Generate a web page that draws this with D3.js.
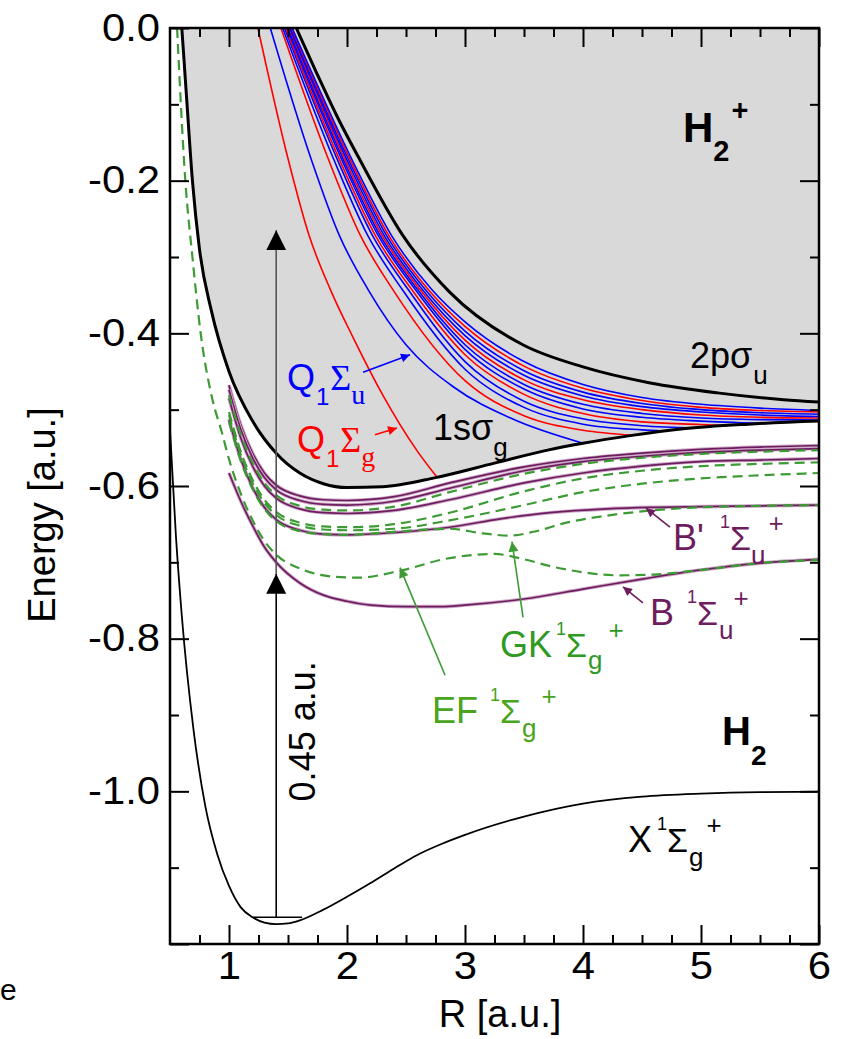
<!DOCTYPE html>
<html>
<head>
<meta charset="utf-8">
<script src="https://cdn.jsdelivr.net/npm/d3@7"></script>
<style>
  body { margin: 0; background: #fff; }
  svg { display: block; font-family: "Liberation Sans", Arial, Helvetica, sans-serif; }
</style>
</head>
<body>
<div id="chart"></div>
<script>
// ---- axis ticks ----
const xMajor = [1, 2, 3, 4, 5, 6];
const xLabels = ["1", "2", "3", "4", "5", "6"];
const yMajor = [0, -0.2, -0.4, -0.6, -0.8, -1.0, -1.2];
const yLabels = ["0.0", "-0.2", "-0.4", "-0.6", "-0.8", "-1.0", ""];
const yMinor = [-0.1, -0.3, -0.5, -0.7, -0.9, -1.1];

// ---- potential curves, [R, E] in a.u. ----
// H2 ground state X 1Sigma_g+
const stateX = [[0.5,-0.527],[0.55,-0.665],[0.6,-0.77],[0.7,-0.92],[0.8,-1.02],[0.9,-1.082],[1.0,-1.124],[1.1,-1.152],[1.2,-1.165],[1.3,-1.172],[1.4,-1.174],[1.5,-1.173],[1.6,-1.169],[1.8,-1.155],[2.0,-1.138],[2.2,-1.12],[2.4,-1.101],[2.6,-1.083],[2.8,-1.069],[3.0,-1.057],[3.5,-1.033],[4.0,-1.016],[4.5,-1.007],[5.0,-1.003],[5.5,-1.001],[6.0,-1.0005]];
// H2+ 1s sigma_g (ionisation threshold)
const ion1s = [[0.6,0],[0.64,-0.09],[0.69,-0.2],[0.75,-0.29],[0.85,-0.37],[1.0,-0.45],[1.2,-0.515],[1.4,-0.557],[1.6,-0.583],[1.8,-0.597],[2.0,-0.602],[2.3,-0.601],[2.75,-0.589],[3.25,-0.57],[3.7,-0.553],[4.0,-0.544],[4.4,-0.534],[4.85,-0.525],[5.4,-0.519],[6.0,-0.515]];
// H2+ 2p sigma_u
const ion2p = [[1.57,0],[1.74,-0.058],[1.91,-0.114],[2.11,-0.173],[2.47,-0.271],[2.87,-0.346],[3.49,-0.415],[4.0,-0.444],[4.57,-0.465],[5.14,-0.478],[5.7,-0.487],[6.0,-0.49]];

// singly excited 1Sigma_u+ (solid) and 1Sigma_g+ (dashed)
const stateB = [[1.0,-0.583],[1.1,-0.62],[1.2,-0.652],[1.3,-0.68],[1.4,-0.7],[1.6,-0.727],[1.8,-0.743],[2.0,-0.751],[2.2,-0.756],[2.5,-0.758],[2.8,-0.758],[3.0,-0.756],[3.5,-0.748],[4.0,-0.735],[4.5,-0.722],[5.0,-0.71],[5.5,-0.701],[6.0,-0.696]];
const stateEF = [[0.56,0],[0.63,-0.2],[0.69,-0.3],[0.76,-0.4],[0.86,-0.487],[0.94,-0.53],[1.0,-0.565],[1.1,-0.61],[1.2,-0.645],[1.3,-0.672],[1.4,-0.69],[1.6,-0.708],[1.9,-0.719],[2.1,-0.72],[2.45,-0.711],[2.85,-0.695],[3.25,-0.689],[3.5,-0.696],[3.75,-0.706],[4.0,-0.713],[4.3,-0.717],[4.6,-0.716],[5.0,-0.71],[5.5,-0.701],[6.0,-0.697]];
const stateBp = [[1.0,-0.513],[1.1,-0.565],[1.2,-0.602],[1.3,-0.628],[1.4,-0.644],[1.6,-0.658],[1.8,-0.663],[2.0,-0.664],[2.4,-0.661],[2.87,-0.654],[3.3,-0.643],[3.72,-0.635],[4.2,-0.63],[4.57,-0.628],[5.0,-0.627],[5.5,-0.626],[6.0,-0.625]];
const stateGK = [[1.0,-0.516],[1.1,-0.567],[1.2,-0.604],[1.3,-0.63],[1.4,-0.646],[1.6,-0.659],[1.8,-0.663],[2.0,-0.664],[2.4,-0.66],[2.87,-0.656],[3.15,-0.662],[3.38,-0.665],[3.58,-0.66],[3.86,-0.648],[4.29,-0.637],[4.85,-0.629],[5.5,-0.626],[6.0,-0.625]];
const rydU1 = [[1.0,-0.468],[1.1,-0.52],[1.2,-0.557],[1.3,-0.583],[1.4,-0.599],[1.6,-0.613],[1.8,-0.618],[2.0,-0.619],[2.4,-0.614],[2.87,-0.596],[3.5,-0.575],[4.0,-0.564],[4.5,-0.557],[5.0,-0.552],[5.5,-0.549],[6.0,-0.547]];
const rydU2 = [[1.0,-0.474],[1.1,-0.526],[1.2,-0.563],[1.3,-0.589],[1.4,-0.605],[1.6,-0.619],[1.8,-0.624],[2.0,-0.625],[2.4,-0.62],[2.87,-0.603],[3.5,-0.58],[4.0,-0.568],[4.5,-0.561],[5.0,-0.556],[5.5,-0.553],[6.0,-0.551]];
const rydU3 = [[1.0,-0.485],[1.1,-0.537],[1.2,-0.574],[1.3,-0.6],[1.4,-0.616],[1.6,-0.63],[1.8,-0.635],[2.0,-0.636],[2.4,-0.632],[2.87,-0.618],[3.5,-0.596],[4.0,-0.583],[4.5,-0.574],[5.0,-0.568],[5.5,-0.566],[6.0,-0.564]];
const rydG1 = [[1.0,-0.481],[1.1,-0.533],[1.2,-0.57],[1.3,-0.596],[1.4,-0.612],[1.6,-0.626],[1.8,-0.631],[2.0,-0.632],[2.4,-0.627],[2.87,-0.608],[3.5,-0.584],[4.0,-0.571],[4.5,-0.563],[5.0,-0.558],[5.5,-0.555],[6.0,-0.553]];
const rydG2 = [[1.0,-0.503],[1.1,-0.555],[1.2,-0.592],[1.3,-0.618],[1.4,-0.634],[1.6,-0.648],[1.8,-0.653],[2.0,-0.654],[2.4,-0.65],[2.87,-0.635],[3.5,-0.607],[4.0,-0.59],[4.5,-0.58],[5.0,-0.574],[5.5,-0.571],[6.0,-0.569]];
const rydG3 = [[1.0,-0.507],[1.1,-0.559],[1.2,-0.596],[1.3,-0.622],[1.4,-0.638],[1.6,-0.652],[1.8,-0.657],[2.0,-0.658],[2.4,-0.656],[2.87,-0.645],[3.5,-0.625],[4.0,-0.608],[4.5,-0.597],[5.0,-0.59],[5.5,-0.586],[6.0,-0.583]];

// doubly excited Q1 states, Sigma_g (red) and Sigma_u (blue)
const qG1 = [[1.245,0],[1.503,-0.173],[1.677,-0.271],[1.86,-0.343],[2.05,-0.405],[2.3,-0.48],[2.59,-0.553],[2.76,-0.588]];
const qU1 = [[1.35,0],[1.699,-0.173],[1.933,-0.271],[2.18,-0.343],[2.5,-0.415],[2.9,-0.47],[3.4,-0.512],[4.0,-0.544]];
const qG2 = [[1.44,0],[1.845,-0.173],[2.111,-0.271],[2.39,-0.343],[3.0,-0.462],[3.5,-0.508],[4.0,-0.527],[4.42,-0.5335]];
const qU2 = [[1.455,0],[1.89,-0.173],[2.173,-0.271],[2.47,-0.343],[3.0,-0.447],[3.5,-0.497],[4.0,-0.519],[4.5,-0.5265],[4.68,-0.528]];
const qU3 = [[1.47,0],[1.92,-0.173],[2.213,-0.271],[2.52,-0.343],[3.0,-0.437],[3.5,-0.489],[4.0,-0.512],[4.5,-0.521],[4.95,-0.524]];
const qG3 = [[1.48,0],[1.938,-0.173],[2.237,-0.271],[2.55,-0.343],[3.0,-0.428],[3.5,-0.48],[4.0,-0.505],[4.5,-0.516],[5.0,-0.5195],[5.22,-0.521]];
const qU4 = [[1.49,0],[1.957,-0.173],[2.261,-0.271],[2.58,-0.343],[3.0,-0.421],[3.5,-0.473],[4.0,-0.499],[4.5,-0.51],[5.0,-0.515],[5.5,-0.518]];
const qU5 = [[1.5,0],[1.971,-0.173],[2.278,-0.271],[2.6,-0.343],[3.0,-0.415],[3.5,-0.467],[4.0,-0.493],[4.5,-0.505],[5.0,-0.511],[5.5,-0.513],[6.0,-0.5135]];
const qG4 = [[1.51,0],[1.985,-0.173],[2.295,-0.271],[2.62,-0.343],[3.0,-0.409],[3.5,-0.461],[4.0,-0.487],[4.5,-0.5],[5.0,-0.507],[5.5,-0.51],[6.0,-0.511]];
const qU6 = [[1.515,0],[2.0,-0.173],[2.312,-0.271],[2.64,-0.343],[3.0,-0.403],[3.5,-0.455],[4.0,-0.482],[4.5,-0.496],[5.0,-0.503],[5.5,-0.507],[6.0,-0.509]];
const qU7 = [[1.52,0],[2.015,-0.173],[2.332,-0.271],[2.665,-0.343],[3.0,-0.397],[3.5,-0.449],[4.0,-0.477],[4.5,-0.492],[5.0,-0.5],[5.5,-0.504],[6.0,-0.506]];
const qG5 = [[1.53,0],[2.029,-0.173],[2.351,-0.271],[2.69,-0.343],[3.0,-0.391],[3.5,-0.443],[4.0,-0.472],[4.5,-0.488],[5.0,-0.497],[5.5,-0.501],[6.0,-0.503]];
const qU8 = [[1.535,0],[2.044,-0.173],[2.374,-0.271],[2.72,-0.343],[3.0,-0.385],[3.5,-0.437],[4.0,-0.467],[4.5,-0.484],[5.0,-0.493],[5.5,-0.498],[6.0,-0.501]];

// lowest vibrational level and the two 0.45 a.u. photons at R = 1.4
const vibLevel = {E: -1.165, R0: 1.2, R1: 1.62};
const photon = {R: 1.4, E0: -1.165, E1: -0.715, E2: -0.265};

// colours
const blue = "#0000ff", red = "#ff0000", purple = "#6d1d5e", purpleHalo = "#cfa9c9", green = "#3d9b35";

// Set graph dimensions
var margin = {top: 28, right: 26, bottom: 95, left: 170},
    width = 845 - margin.left - margin.right,
    height = 1039 - margin.top - margin.bottom;

const svg = d3.select('#chart')
  .append('svg')
    .attr('width', 845)
    .attr('height', 1039);

const g = svg.append('g')
  .attr('transform', 'translate(' + margin.left + ',' + margin.top + ')');

var x = d3.scaleLinear().domain([0.5, 6]).range([0, width]);
var y = d3.scaleLinear().domain([-1.2, 0]).range([height, 0]);

// clip + arrow markers
var defs = svg.append('defs');
defs.append('clipPath').attr('id', 'plotclip')
  .append('rect').attr('width', width).attr('height', height);

function marker(id, color, w, h) {
  defs.append('marker')
    .attr('id', id)
    .attr('viewBox', '0 0 10 10')
    .attr('refX', 10).attr('refY', 5)
    .attr('markerWidth', w).attr('markerHeight', h)
    .attr('markerUnits', 'userSpaceOnUse')
    .attr('orient', 'auto')
    .append('path').attr('d', 'M0,0L10,5L0,10Z').attr('fill', color);
}
marker('hBlue', blue, 11, 9);
marker('hRed', red, 11, 9);
marker('hPurple', purple, 11, 9);
marker('hGreen', green, 12, 10);
marker('hBig', '#000', 20, 21);

var line = d3.line()
  .x(function(d) { return x(d[0]); })
  .y(function(d) { return y(d[1]); })
  .curve(d3.curveMonotoneX);

var plot = g.append('g').attr('clip-path', 'url(#plotclip)');

// grey continuum above the H2+ ground state
plot.append('path')
  .datum(ion1s)
  .attr('fill', '#d9d9d9')
  .attr('d', d3.area()
    .x(function(d) { return x(d[0]); })
    .y0(y(0))
    .y1(function(d) { return y(d[1]); })
    .curve(d3.curveMonotoneX));

// Rydberg states
[rydU1, rydU2, rydU3, stateBp, stateB].forEach(function(s) {
  plot.append('path').datum(s).attr('fill', 'none')
    .attr('stroke', purpleHalo).attr('stroke-width', 3.6).attr('d', line);
  plot.append('path').datum(s).attr('fill', 'none')
    .attr('stroke', purple).attr('stroke-width', 1.7).attr('d', line);
});
[rydG1, rydG2, rydG3, stateGK, stateEF].forEach(function(s) {
  plot.append('path').datum(s).attr('fill', 'none')
    .attr('stroke', green).attr('stroke-width', 2.2)
    .attr('stroke-dasharray', '10,6').attr('d', line);
});

// doubly excited states
[[qG1, red], [qU1, blue], [qG2, red], [qU2, blue], [qU3, blue], [qG3, red], [qU4, blue],
 [qU5, blue], [qG4, red], [qU6, blue], [qU7, blue], [qG5, red], [qU8, blue]].forEach(function(c) {
  plot.append('path').datum(c[0]).attr('fill', 'none')
    .attr('stroke', c[1]).attr('stroke-width', 1.6).attr('d', line);
});

// H2+ curves
[ion2p, ion1s].forEach(function(s) {
  plot.append('path').datum(s).attr('fill', 'none')
    .attr('stroke', '#000').attr('stroke-width', 3).attr('d', line);
});

// H2 ground state
plot.append('path').datum(stateX).attr('fill', 'none')
  .attr('stroke', '#000').attr('stroke-width', 1.8).attr('d', line);
plot.append('line')
  .attr('x1', x(vibLevel.R0)).attr('x2', x(vibLevel.R1))
  .attr('y1', y(vibLevel.E)).attr('y2', y(vibLevel.E))
  .attr('stroke', '#000').attr('stroke-width', 1.6);

// photon arrows
g.append('line')
  .attr('x1', x(photon.R)).attr('x2', x(photon.R))
  .attr('y1', y(photon.E0)).attr('y2', y(photon.E1))
  .attr('stroke', '#000').attr('stroke-width', 1.6)
  .attr('marker-end', 'url(#hBig)');
g.append('line')
  .attr('x1', x(photon.R)).attr('x2', x(photon.R))
  .attr('y1', y(photon.E1)).attr('y2', y(photon.E2))
  .attr('stroke', '#555').attr('stroke-width', 1.6)
  .attr('marker-end', 'url(#hBig)');

// label pointers
function pointer(R0, E0, R1, E1, color, head) {
  g.append('line')
    .attr('x1', x(R0)).attr('y1', y(E0)).attr('x2', x(R1)).attr('y2', y(E1))
    .attr('stroke', color).attr('stroke-width', 1.6)
    .attr('marker-end', 'url(#' + head + ')');
}
pointer(2.136, -0.451, 2.534, -0.428, blue, 'hBlue');
pointer(2.237, -0.533, 2.424, -0.524, red, 'hRed');
pointer(4.737, -0.654, 4.534, -0.629, purple, 'hPurple');
pointer(4.508, -0.753, 4.339, -0.732, purple, 'hPurple');
pointer(3.492, -0.772, 3.398, -0.673, green, 'hGreen');
pointer(2.831, -0.848, 2.449, -0.707, green, 'hGreen');

// frame
g.append('rect')
  .attr('width', width).attr('height', height)
  .attr('fill', 'none').attr('stroke', '#000').attr('stroke-width', 2.5);

// ticks (all pointing inwards)
function axis(a, tr) {
  var ax = g.append('g').attr('transform', tr).call(a);
  ax.select('.domain').remove();
  ax.selectAll('line').attr('stroke', '#000').attr('stroke-width', 2);
  ax.attr('font-family', null).attr('font-size', 38);
  ax.selectAll('text').attr('fill', '#000').attr('transform', 'scale(1.1,1)');
  return ax;
}
var xMinor = d3.range(0.75, 6, 0.25).filter(function(d) { return d % 1 != 0; });
axis(d3.axisBottom(x).tickValues(xMajor).tickSize(-19).tickPadding(8)
  .tickFormat(function(d, i) { return xLabels[i]; }), 'translate(0,' + height + ')');
axis(d3.axisBottom(x).tickValues(xMinor).tickSize(-9).tickFormat(''), 'translate(0,' + height + ')');
axis(d3.axisTop(x).tickValues(xMajor).tickSize(-19).tickFormat(''), 'translate(0,0)');
axis(d3.axisTop(x).tickValues(xMinor).tickSize(-9).tickFormat(''), 'translate(0,0)');
axis(d3.axisLeft(y).tickValues(yMajor).tickSize(-19).tickPadding(9)
  .tickFormat(function(d, i) { return yLabels[i]; }), 'translate(0,0)');
axis(d3.axisLeft(y).tickValues(yMinor).tickSize(-9).tickFormat(''), 'translate(0,0)');
axis(d3.axisRight(y).tickValues(yMajor).tickSize(-19).tickFormat(''), 'translate(' + width + ',0)');
axis(d3.axisRight(y).tickValues(yMinor).tickSize(-9).tickFormat(''), 'translate(' + width + ',0)');

// axis titles
svg.append('text')
  .attr('transform', 'translate(55,515) rotate(-90)')
  .attr('text-anchor', 'middle').attr('font-size', 38).text('Energy [a.u.]');
svg.append('text')
  .attr('x', 500).attr('y', 1027)
  .attr('text-anchor', 'middle').attr('font-size', 38).text('R [a.u.]');
// stray letter left over from the page the figure was cut from
svg.append('text')
  .attr('x', 0).attr('y', 1000).attr('font-size', 30).text('e');

// state labels with sub/superscripts
const serif = '"Liberation Serif", "Times New Roman", serif';
function label(R, E, pieces, color, weight) {
  var t = g.append('text')
    .attr('x', x(R)).attr('y', y(E))
    .attr('fill', color).attr('font-weight', weight || 'normal');
  var base = 0;
  pieces.forEach(function(p) {
    var b = p.b || 0;
    t.append('tspan')
      .attr('dx', p.dx || 0).attr('dy', b - base)
      .attr('font-size', p.s)
      .attr('font-family', p.f || null)
      .text(p.t);
    base = b;
  });
}
label(4.847, -0.1494, [{t: 'H', s: 42}, {t: '2', s: 29, b: 19}, {t: '+', s: 29, b: -22, dx: 2}], '#000', 'bold');
label(5.178, -0.9397, [{t: 'H', s: 40}, {t: '2', s: 28, b: 20}], '#000', 'bold');
label(4.907, -0.4456, [{t: '2pσ', s: 36}, {t: 'u', s: 26, b: 16, dx: 1}], '#000');
label(2.729, -0.54, [{t: '1sσ', s: 36}, {t: 'g', s: 26, b: 16}], '#000');
label(1.4915, -0.4744, [{t: 'Q', s: 36}, {t: '1', s: 24, b: 15, dx: 1}, {t: 'Σ', s: 36, f: serif, dx: 1}, {t: 'u', s: 28, b: 14, f: serif}], blue);
label(1.576, -0.5557, [{t: 'Q', s: 36}, {t: '1', s: 24, b: 15, dx: 1}, {t: 'Σ', s: 36, f: serif, dx: 1}, {t: 'g', s: 28, b: 14, f: serif}], red);
label(4.763, -0.6841, [{t: "B'", s: 36}, {t: '1', s: 18, b: -22, dx: 16}, {t: 'Σ', s: 34}, {t: 'u', s: 26, b: 14}, {t: '+', s: 26, b: -18, dx: 3}], purple);
label(4.568, -0.7824, [{t: 'B', s: 36}, {t: '1', s: 18, b: -22, dx: 13}, {t: 'Σ', s: 34}, {t: 'u', s: 26, b: 14, dx: 1}, {t: '+', s: 26, b: -18}], purple);
label(3.297, -0.8244, [{t: 'GK', s: 36}, {t: '1', s: 18, b: -22, dx: 4}, {t: 'Σ', s: 34}, {t: 'g', s: 26, b: 12, dx: 1}, {t: '+', s: 26, b: -18, dx: 6}], '#2f9a1f');
label(2.72, -0.9109, [{t: 'EF', s: 36}, {t: '1', s: 18, b: -22, dx: 12}, {t: 'Σ', s: 34}, {t: 'g', s: 26, b: 14, dx: 1}, {t: '+', s: 26, b: -18, dx: 5}], '#48a51c');
label(4.381, -1.08, [{t: 'X', s: 36}, {t: '1', s: 18, b: -22, dx: 5}, {t: 'Σ', s: 34}, {t: 'g', s: 26, b: 14, dx: 1}, {t: '+', s: 26, b: -18, dx: 3}], '#000');

// photon energy
g.append('text')
  .attr('transform', 'translate(' + x(1.729) + ',' + y(-0.9214) + ') rotate(-90)')
  .attr('text-anchor', 'middle').attr('font-size', 36).text('0.45 a.u.');
</script>
</body>
</html>
